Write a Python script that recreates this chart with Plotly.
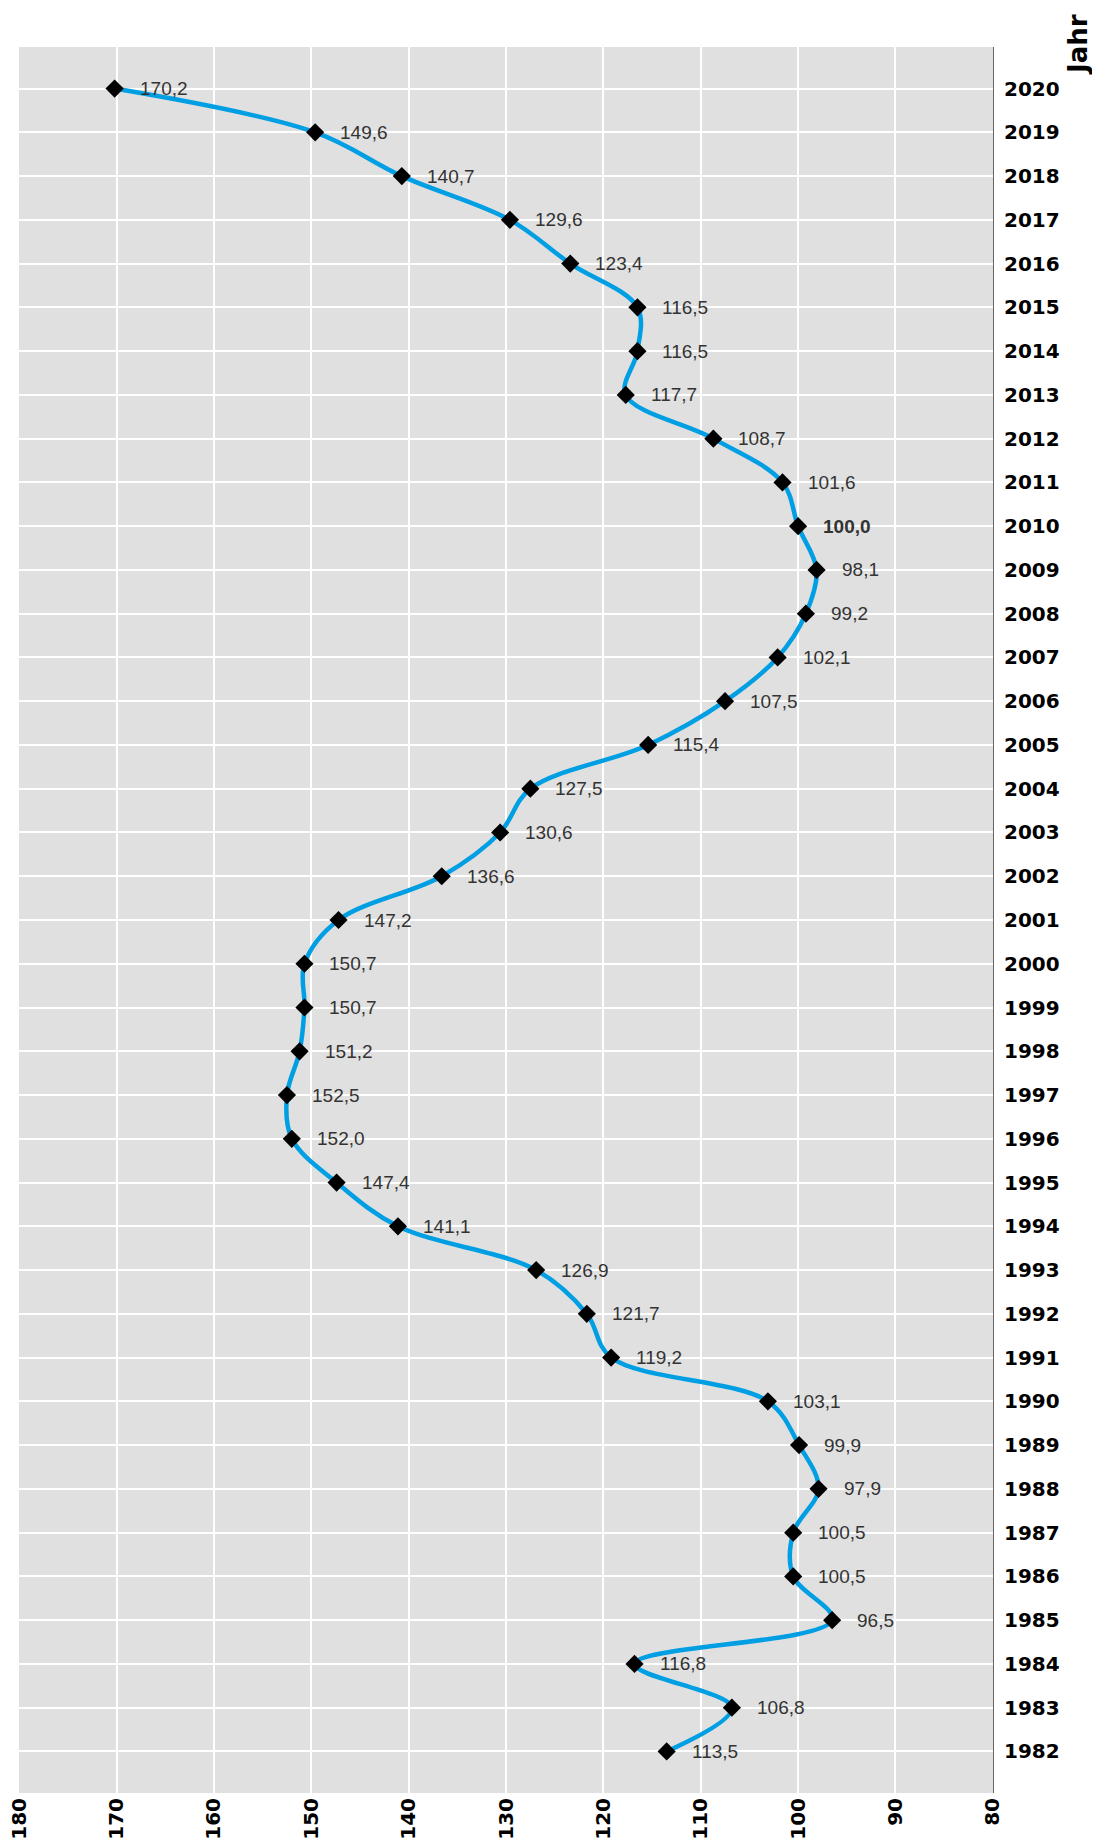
import plotly.graph_objects as go

# Jahre und Indexwerte (2010 = 100)
years = list(range(1982, 2021))
values = [
    113.5, 106.8, 116.8, 96.5, 100.5, 100.5, 97.9, 99.9, 103.1, 119.2,
    121.7, 126.9, 141.1, 147.4, 152.0, 152.5, 151.2, 150.7, 150.7, 147.2,
    136.6, 130.6, 127.5, 115.4, 107.5, 102.1, 99.2, 98.1, 100.0, 101.6,
    108.7, 117.7, 116.5, 116.5, 123.4, 129.6, 140.7, 149.6, 170.2,
]
x_ticks = [180, 170, 160, 150, 140, 130, 120, 110, 100, 90, 80]
base_year = 2010

LINE_COLOR = "#009fe3"
AXIS_FONT = dict(family="DejaVu Sans", size=20, color="#000000")


def fmt(v):
    return f"{v:.1f}".replace(".", ",")


fig = go.Figure()

fig.add_trace(go.Scatter(
    x=values,
    y=years,
    mode="lines",
    line=dict(color=LINE_COLOR, width=4.5, shape="spline", smoothing=1),
    hoverinfo="skip",
    showlegend=False,
))

fig.add_trace(go.Scatter(
    x=values,
    y=years,
    mode="markers",
    marker=dict(symbol="diamond", size=14, color="#000000"),
    showlegend=False,
))

# Wertebeschriftungen rechts neben den Punkten
for yr, v in zip(years, values):
    txt = fmt(v)
    if yr == base_year:
        txt = f"<b>{txt}</b>"
    fig.add_annotation(
        x=v, y=yr, text=txt, showarrow=False,
        xanchor="left", yanchor="middle", xshift=23,
        font=dict(family="Liberation Sans, Arial", size=19, color="#333333"),
    )

fig.add_annotation(
    xref="paper", yref="paper", x=1.0873, y=1.0,
    text="<b>Jahr</b>", textangle=-90, showarrow=False,
    xanchor="center", yanchor="middle", yshift=2,
    font=dict(family="DejaVu Sans", size=26, color="#000000"),
)

# Seite hat 8px Body-Rand -> Figur entsprechend kleiner
fig.update_layout(
    width=1092,
    height=1839,
    margin=dict(l=11, r=107, t=39, b=54),
    plot_bgcolor="#e0e0e0",
    paper_bgcolor="#ffffff",
    xaxis=dict(
        range=[180.02, 79.98],
        tickvals=x_ticks,
        ticktext=[f"<b>{t}</b>" for t in x_ticks],
        tickangle=-90,
        tickfont=AXIS_FONT,
        ticklabeloverflow="allow",
        showgrid=True, gridcolor="#ffffff", gridwidth=2,
        zeroline=False, showline=False, ticks="",
        automargin=False,
    ),
    yaxis=dict(
        side="right",
        range=[1981.05, 2020.95],
        tickvals=years,
        ticktext=[f"<b>{y}</b>" for y in years],
        tickfont=AXIS_FONT,
        showgrid=True, gridcolor="#ffffff", gridwidth=2,
        zeroline=False, showline=True, linecolor="#666666", linewidth=1,
        ticks="", ticklabelstandoff=6,
        automargin=False,
    ),
)

fig.write_html("out.html")
